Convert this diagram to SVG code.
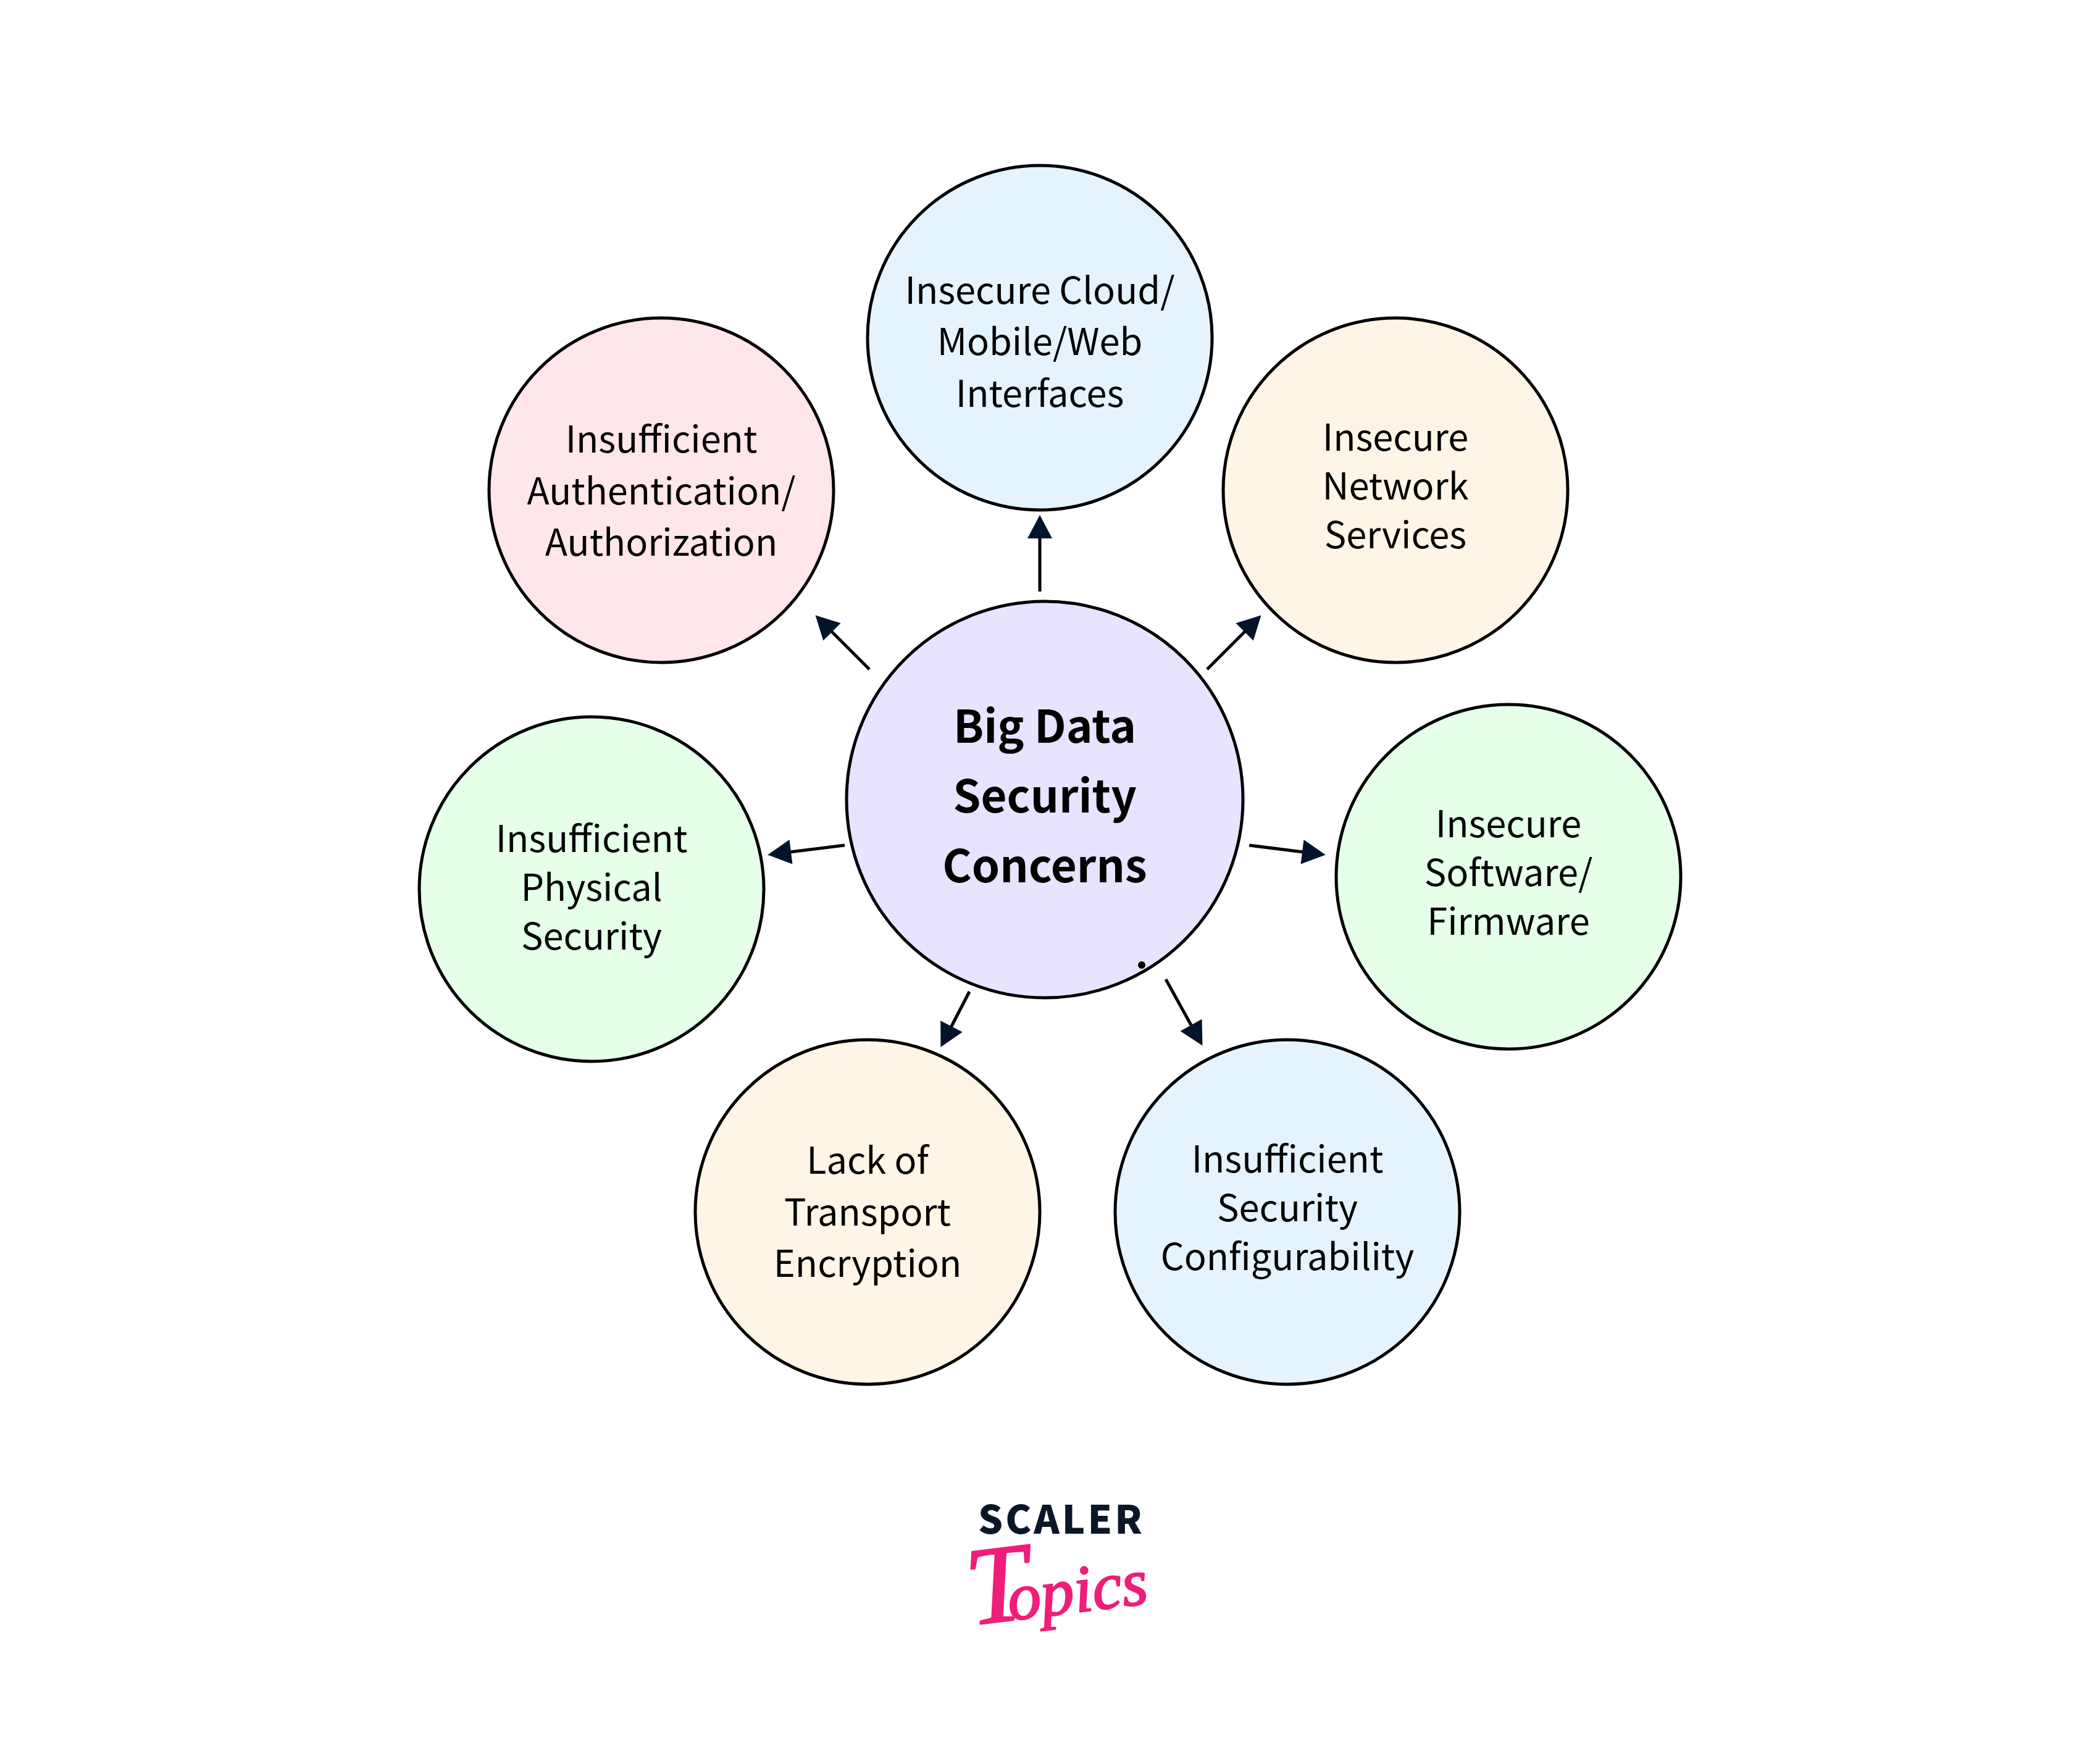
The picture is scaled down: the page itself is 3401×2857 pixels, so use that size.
<svg xmlns="http://www.w3.org/2000/svg" width="3401" height="2857" viewBox="0 0 3401 2857">
<style>
.node{stroke:#000;stroke-width:5}
.label{font-family:"Noto Sans CJK SC","Noto Sans",sans-serif;font-size:59.5px;fill:#000;text-anchor:middle}
.title{font-family:"Noto Sans CJK SC","Noto Sans",sans-serif;font-size:72.5px;font-weight:700;fill:#000;text-anchor:middle}
.edge{stroke:#000;stroke-width:5;fill:none;marker-end:url(#head)}
</style>
<defs>
<marker id="head" markerUnits="userSpaceOnUse" markerWidth="44" markerHeight="44" refX="2" refY="20" orient="auto" overflow="visible">
<path d="M0 0L38 20L0 40Z" fill="#03132b"/>
</marker>
</defs>
<rect width="3401" height="2857" fill="#fff"/>
<g id="connectors">
<line class="edge" x1="1684" y1="958" x2="1684" y2="870"/>
<line class="edge" x1="1408" y1="1084" x2="1346" y2="1022"/>
<line class="edge" x1="1955" y1="1084" x2="2017" y2="1022"/>
<line class="edge" x1="1368" y1="1369" x2="1279" y2="1380"/>
<line class="edge" x1="2023" y1="1369" x2="2111" y2="1380"/>
<line class="edge" x1="1570" y1="1606" x2="1540" y2="1664"/>
<line class="edge" x1="1888" y1="1586" x2="1930" y2="1662"/>
</g>
<g id="node-top"><circle class="node" cx="1684" cy="547" r="279" fill="#e5f3ff"/>
<text class="label" x="1684" y="492">Insecure Cloud/</text><text class="label" x="1684" y="575">Mobile/Web</text><text class="label" x="1684" y="659">Interfaces</text></g>
<g id="node-auth"><circle class="node" cx="1071" cy="794" r="279" fill="#ffe6ea"/>
<text class="label" x="1071" y="733">Insufficient</text><text class="label" x="1071" y="817">Authentication/</text><text class="label" x="1071" y="900">Authorization</text></g>
<g id="node-network"><circle class="node" cx="2260" cy="794" r="279" fill="#fff5e6"/>
<text class="label" x="2260" y="730">Insecure</text><text class="label" x="2260" y="809">Network</text><text class="label" x="2260" y="888">Services</text></g>
<g id="node-physical"><circle class="node" cx="958" cy="1440" r="279" fill="#e5ffe9"/>
<text class="label" x="958" y="1380">Insufficient</text><text class="label" x="958" y="1459">Physical</text><text class="label" x="958" y="1538">Security</text></g>
<g id="node-software"><circle class="node" cx="2443" cy="1420" r="279" fill="#e5ffe9"/>
<text class="label" x="2443" y="1356">Insecure</text><text class="label" x="2443" y="1435">Software/</text><text class="label" x="2443" y="1514">Firmware</text></g>
<g id="node-transport"><circle class="node" cx="1405" cy="1963" r="279" fill="#fff5e6"/>
<text class="label" x="1405" y="1901">Lack of</text><text class="label" x="1405" y="1985">Transport</text><text class="label" x="1405" y="2068">Encryption</text></g>
<g id="node-config"><circle class="node" cx="2085" cy="1963" r="279" fill="#e5f3ff"/>
<text class="label" x="2085" y="1899">Insufficient</text><text class="label" x="2085" y="1978">Security</text><text class="label" x="2085" y="2057">Configurability</text></g>
<g id="node-center"><circle class="node" cx="1692" cy="1295" r="321" fill="#e6e4ff"/>
<circle cx="1849" cy="1563" r="6" fill="#000"/>
<text class="title" x="1692" y="1203">Big Data</text><text class="title" x="1692" y="1316">Security</text><text class="title" x="1692" y="1429">Concerns</text></g>
<g id="logo">
<text x="1584" y="2484" font-family="'Noto Sans CJK SC','Noto Sans',sans-serif" font-size="63" font-weight="900" letter-spacing="4" fill="#0b1729">SCALER</text>
<text transform="translate(1590 2630) rotate(-7)" font-family="'Liberation Serif',serif" font-style="italic" fill="#ef1e78" stroke="#ef1e78" stroke-width="2.5" stroke-linejoin="round" font-size="108"><tspan font-size="180" dx="-18">T</tspan><tspan dx="-36">opics</tspan></text>
</g>
</svg>
